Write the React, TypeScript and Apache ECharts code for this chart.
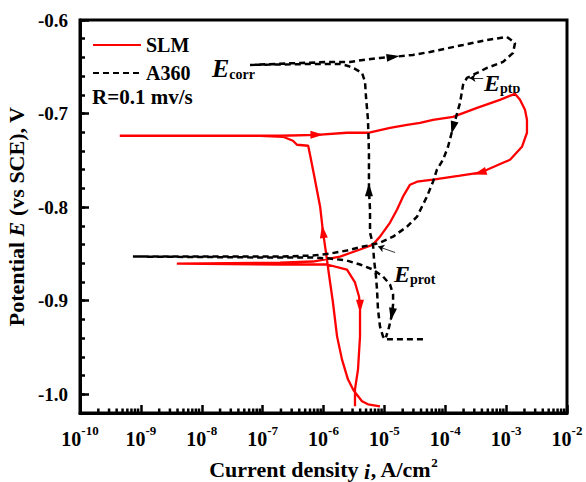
import React, { useEffect, useRef } from "react";
import * as echarts from "echarts";

const FONT = "'Liberation Serif', 'Times New Roman', serif";

// SLM cyclic polarization (current density A/cm2, potential V vs SCE)
const slmCurrent = [
  8.47e-6, 5.38e-6, 4.29e-6, 3.29e-6, 3.05e-6, 2.52e-6, 2.01e-6, 1.67e-6, 1.43e-6, 1.23e-6,
  1.14e-6, 9.8e-7, 8.8e-7, 6.98e-7, 6.24e-7, 5.6e-7, 3.67e-7, 3.15e-7, 2.16e-7, 9.1e-8,
  4.5e-10, 1.93e-7, 7.8e-7, 2.43e-6, 5.38e-6, 1.24e-5, 2.36e-5, 3.85e-5, 6.3e-5, 1.34e-4,
  3.33e-4, 7.9e-4, 1.4e-3, 1.69e-3, 2.04e-3, 2.2e-3, 2.2e-3, 1.82e-3, 1.16e-3, 8.9e-4,
  4.85e-4, 3.72e-4, 1.75e-4, 6.3e-5, 3.44e-5, 2.64e-5, 2.02e-5, 1.61e-5, 1.24e-5, 8.47e-6,
  6.5e-6, 3.98e-6, 1.87e-6, 6.73e-7, 1.93e-7, 3.9e-9, 1.93e-7, 1.14e-6, 2.43e-6, 3.29e-6,
  3.83e-6, 3.98e-6, 3.98e-6, 3.69e-6, 3.29e-6, 3.29e-6,
];
const slmPotential = [
  -1.0128, -1.0107, -1.0075, -0.9979, -0.9947, -0.984, -0.9627, -0.9381, -0.9019, -0.872,
  -0.856, -0.8261, -0.7995, -0.7653, -0.7493, -0.7344, -0.7333, -0.7291, -0.7248, -0.7237,
  -0.7237, -0.7237, -0.7227, -0.7205, -0.7205, -0.7152, -0.712, -0.7099, -0.7067, -0.7035,
  -0.6939, -0.6853, -0.6789, -0.6853, -0.696, -0.7067, -0.7205, -0.7355, -0.7493, -0.7525,
  -0.76, -0.7632, -0.7664, -0.7707, -0.7728, -0.776, -0.7888, -0.8027, -0.8165, -0.8315,
  -0.84, -0.8453, -0.8528, -0.8581, -0.8592, -0.8603, -0.8613, -0.8613, -0.8667, -0.8805,
  -0.8955, -0.9061, -0.9381, -0.9733, -0.9947, -1.0128,
];

// A360 cyclic polarization
const a360Current = [
  4.3e-5, 1.02e-5, 9.48e-6, 8.47e-6, 7.85e-6, 7.57e-6, 7.28e-6, 6.76e-6, 6.5e-6, 5.81e-6,
  5.81e-6, 5.58e-6, 5.58e-6, 5.38e-6, 4.99e-6, 4.81e-6, 4.29e-6, 3.29e-6, 2.52e-6, 1.87e-6,
  8.8e-7, 6.2e-8, 4.1e-7, 1.28e-6, 2.72e-6, 4.46e-6, 8.47e-6, 1.39e-5, 2.95e-5, 5.6e-5,
  1.96e-4, 4.85e-4, 1.03e-3, 1.4e-3, 1.3e-3, 8.9e-4, 4.85e-4, 2.86e-4, 2.27e-4, 1.96e-4,
  1.75e-4, 1.34e-4, 1.11e-4, 9.2e-5, 7.3e-5, 6.3e-5, 5.0e-5, 3.44e-5, 2.36e-5, 1.39e-5,
  8.47e-6, 6.5e-6, 4.46e-6, 2.43e-6, 1.28e-6, 6.73e-7, 1.93e-7, 7.4e-10, 1.93e-7, 6.73e-7,
  1.28e-6, 2.43e-6, 3.98e-6, 6.5e-6, 9.48e-6, 1.24e-5, 1.39e-5, 1.39e-5, 1.33e-5, 1.19e-5,
  1.06e-5,
];
const a360Potential = [
  -0.9413, -0.9413, -0.9381, -0.9275, -0.9093, -0.888, -0.8741, -0.856, -0.84, -0.8272,
  -0.8027, -0.7813, -0.7419, -0.7067, -0.6821, -0.6661, -0.6565, -0.6523, -0.6491, -0.6469,
  -0.6469, -0.648, -0.6459, -0.6448, -0.6448, -0.6427, -0.6405, -0.6395, -0.6373, -0.6341,
  -0.6267, -0.6213, -0.6181, -0.6245, -0.6352, -0.6448, -0.6512, -0.6587, -0.6619, -0.6693,
  -0.6885, -0.7152, -0.7355, -0.7493, -0.76, -0.7728, -0.7888, -0.8101, -0.8208, -0.8315,
  -0.8379, -0.84, -0.8421, -0.8464, -0.8496, -0.8517, -0.8528, -0.8528, -0.8539, -0.8539,
  -0.8549, -0.8571, -0.8613, -0.8667, -0.8741, -0.8827, -0.8933, -0.904, -0.9147, -0.9285,
  -0.9392,
];

// direction arrows on the curves: [current, potential, rotation in degrees]
const slmArrows = [
  [7.8e-7, -0.7227, -90],
  [9.8e-7, -0.8261, 8],
  [3.98e-6, -0.906, 180],
  [3.72e-4, -0.7632, 107],
];
const a360Arrows = [
  [1.39e-5, -0.6395, -82],
  [5.58e-6, -0.7813, 0],
  [1.34e-4, -0.7152, 165],
  [1.33e-5, -0.9147, 170],
];

// pointers for E_ptp and E_prot annotations: [from, to]
const eptpPointer = [[4.2e-4, -0.6619], [2.5e-4, -0.6619]];
const eprotPointer = [[1.5e-5, -0.8485], [7.9e-6, -0.8421]];

const xMin = 1e-10;
const xMax = 1e-2;
const yMin = -1.02;
const yMax = -0.6;
const yMajorTicks = [-1.0, -0.9, -0.8, -0.7, -0.6];

const xMinorTickValues: number[] = [];
for (let e = -10; e < -2; e++) {
  for (let k = 2; k <= 9; k++) xMinorTickValues.push(k * Math.pow(10, e));
}

export default function App() {
  const ref = useRef<HTMLDivElement>(null);

  useEffect(() => {
    const chart = echarts.init(ref.current!, undefined, { renderer: "svg" });
    const zip = (xs: number[], ys: number[]) => xs.map((x, i) => [x, ys[i]]);
    const arrowPts = (arr: number[][], color: string) =>
      arr.map(([x, y, r]) => ({ coord: [x, y], symbolRotate: r, itemStyle: { color } }));

    const labelStyle = { fontFamily: FONT, fontWeight: "bold" as const, color: "#000" };

    chart.setOption({
      animation: false,
      backgroundColor: "#fff",
      grid: {
        left: 80,
        top: 20,
        right: 19,
        bottom: 69,
        show: true,
        borderColor: "#000",
        borderWidth: 3,
        containLabel: false,
        outerBoundsMode: "none",
      },
      legend: {
        data: ["SLM", "A360"],
        orient: "vertical",
        left: 87,
        top: 30,
        itemWidth: 48,
        itemHeight: 14,
        itemGap: 8,
        itemStyle: { opacity: 0, color: "transparent", borderWidth: 0 },
        textStyle: { ...labelStyle, fontSize: 20 },
      },
      xAxis: {
        type: "log",
        logBase: 10,
        min: xMin,
        max: xMax,
        splitNumber: 8,
        axisLine: { show: true, lineStyle: { color: "#000", width: 3 } },
        axisTick: { show: true, inside: true, length: 8, lineStyle: { color: "#000", width: 2.5 } },
        minorTick: { show: false },
        splitLine: { show: false },
        axisLabel: {
          ...labelStyle,
          fontSize: 20,
          margin: 11,
          showMinLabel: true,
          showMaxLabel: true,
          formatter: (v: number) => `{b|10}{s|${Math.round(Math.log10(v))}}`,
          rich: {
            b: { ...labelStyle, fontSize: 20, lineHeight: 25, verticalAlign: "bottom" },
            s: { ...labelStyle, fontSize: 13, lineHeight: 14, verticalAlign: "top" },
          },
        },
        name: "Current density {it|i}, A/cm{sup|2}",
        nameLocation: "middle",
        nameGap: 43,
        nameTextStyle: {
          ...labelStyle,
          fontSize: 22,
          rich: {
            it: { ...labelStyle, fontSize: 22, fontStyle: "italic", lineHeight: 26, verticalAlign: "bottom" },
            sup: { ...labelStyle, fontSize: 13, verticalAlign: "top" },
          },
        },
      },
      yAxis: [
        {
          type: "value",
          min: yMin,
          max: yMax,
          interval: 0.02,
          axisLine: { show: true, lineStyle: { color: "#000", width: 3 } },
          axisTick: { show: true, inside: true, length: 5, lineStyle: { color: "#000", width: 2.5 } },
          splitLine: { show: false },
          axisLabel: {
            ...labelStyle,
            fontSize: 19,
            margin: 12,
            showMaxLabel: true,
            formatter: (v: number) => (Math.abs(Math.round(v * 100)) % 10 === 0 ? v.toFixed(1) : ""),
          },
          name: "Potential {it|E} (vs SCE), V",
          nameLocation: "middle",
          nameGap: 46,
          nameRotate: 90,
          nameTextStyle: {
            ...labelStyle,
            fontSize: 22,
            rich: { it: { ...labelStyle, fontSize: 22, fontStyle: "italic" } },
          },
        },
        {
          type: "value",
          min: yMin,
          max: yMax,
          position: "left",
          axisLine: { show: false },
          axisTick: {
            show: true,
            inside: true,
            length: 9,
            customValues: yMajorTicks,
            lineStyle: { color: "#000", width: 2.5 },
          },
          axisLabel: { show: false },
          splitLine: { show: false },
        },
      ],
      graphic: [
        {
          type: "text",
          x: 92,
          y: 97,
          style: { text: "R=0.1 mv/s", ...labelStyle, fill: "#000", fontSize: 21, verticalAlign: "middle", align: "left" },
        },
        {
          type: "text",
          x: 212,
          y: 68,
          style: {
            text: "{e|E}{s|corr}",
            verticalAlign: "middle",
            align: "left",
            rich: {
              e: { fontFamily: FONT, fontStyle: "italic", fontWeight: "bold", fontSize: 26, fill: "#000", verticalAlign: "bottom" },
              s: { fontFamily: FONT, fontWeight: "bold", fontSize: 14, fill: "#000", verticalAlign: "bottom" },
            },
          },
        },
        {
          type: "text",
          x: 484,
          y: 83,
          style: {
            text: "{e|E}{s|ptp}",
            verticalAlign: "middle",
            align: "left",
            rich: {
              e: { fontFamily: FONT, fontStyle: "italic", fontWeight: "bold", fontSize: 24, fill: "#000", verticalAlign: "bottom" },
              s: { fontFamily: FONT, fontWeight: "bold", fontSize: 14, fill: "#000", verticalAlign: "bottom" },
            },
          },
        },
        {
          type: "text",
          x: 394,
          y: 274,
          style: {
            text: "{e|E}{s|prot}",
            verticalAlign: "middle",
            align: "left",
            rich: {
              e: { fontFamily: FONT, fontStyle: "italic", fontWeight: "bold", fontSize: 24, fill: "#000", verticalAlign: "bottom" },
              s: { fontFamily: FONT, fontWeight: "bold", fontSize: 14, fill: "#000", verticalAlign: "bottom" },
            },
          },
        },
      ],
      series: [
        {
          name: "A360",
          type: "line",
          data: zip(a360Current, a360Potential),
          symbol: "none",
          showSymbol: false,
          lineStyle: { color: "#000", width: 2.5, type: [6, 4] },
          itemStyle: { color: "#000" },
          z: 3,
          markPoint: {
            silent: true,
            symbol: "triangle",
            symbolSize: [8, 13],
            label: { show: false },
            data: arrowPts(a360Arrows, "#000"),
          },
          markLine: {
            silent: true,
            symbol: ["none", "arrow"],
            symbolSize: 6,
            label: { show: false },
            lineStyle: { color: "#000", width: 0.8, type: "solid" },
            data: [eptpPointer, eprotPointer].map((p) => [{ coord: p[0] }, { coord: p[1] }]),
          },
        },
        {
          name: "SLM",
          type: "line",
          data: zip(slmCurrent, slmPotential),
          symbol: "none",
          showSymbol: false,
          lineStyle: { color: "#ff0000", width: 2.3 },
          itemStyle: { color: "#ff0000" },
          z: 2,
          markPoint: {
            silent: true,
            symbol: "triangle",
            symbolSize: [8, 13],
            label: { show: false },
            data: arrowPts(slmArrows, "#ff0000"),
          },
        },
        {
          type: "custom",
          silent: true,
          data: xMinorTickValues.map((v) => [v, yMin]),
          encode: { x: 0, y: 1 },
          z: 5,
          renderItem: (_params: any, api: any) => {
            const p = api.coord([api.value(0), api.value(1)]);
            return {
              type: "line",
              shape: { x1: p[0], y1: p[1], x2: p[0], y2: p[1] - 4.5 },
              style: { stroke: "#000", lineWidth: 2.5 },
            };
          },
        },
      ],
    });
    return () => chart.dispose();
  }, []);

  return <div ref={ref} style={{ position: "fixed", left: 0, top: 0, width: 586, height: 482 }} />;
}
